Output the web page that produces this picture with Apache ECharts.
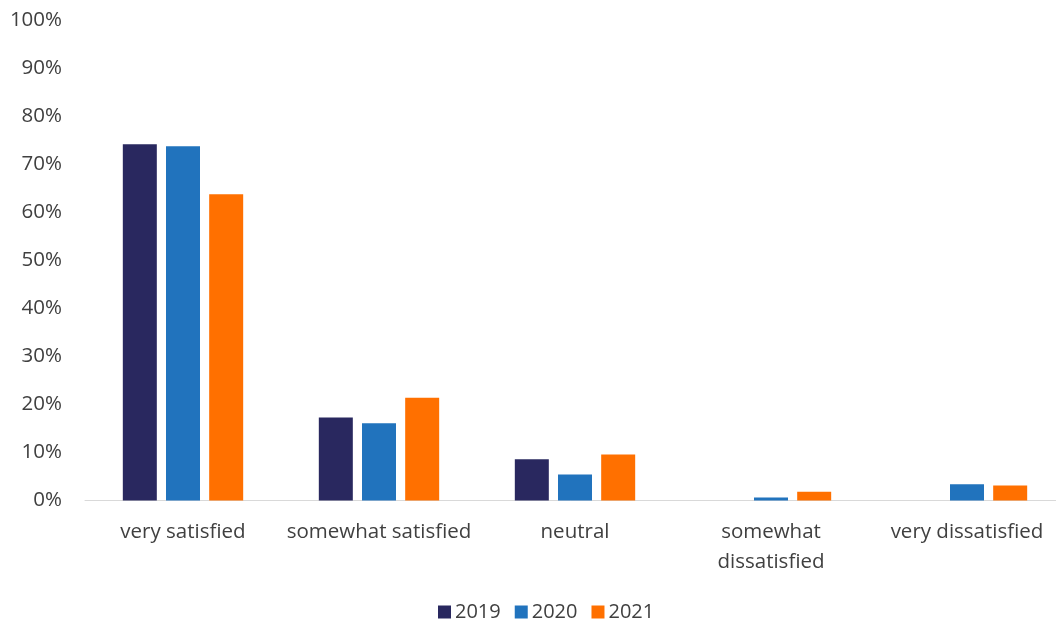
<!DOCTYPE html>
<html>
<head>
<meta charset="utf-8">
<title>Satisfaction by year</title>
<script src="https://cdn.jsdelivr.net/npm/echarts@6/dist/echarts.min.js"></script>
<style>
  html, body { margin: 0; padding: 0; background: #ffffff; }
  #chart { width: 1056px; height: 628px; }
</style>
</head>
<body>
<div id="chart"></div>
<script>
// Survey answer categories (x axis)
const categories = ['very satisfied', 'somewhat satisfied', 'neutral', 'somewhat\ndissatisfied', 'very dissatisfied'];

// Share of respondents per answer, in percent
const years = ['2019', '2020', '2021'];
const values2019 = [74.2, 17.3, 8.6, 0, 0];
const values2020 = [73.8, 16.1, 5.4, 0.6, 3.4];
const values2021 = [63.8, 21.4, 9.6, 1.8, 3.1];

const colors = ['#29285f', '#2173bd', '#ff7000'];
const seriesValues = [values2019, values2020, values2021];

const font = '"Open Sans", Lato, sans-serif';

const chart = echarts.init(document.getElementById('chart'), null, { renderer: 'canvas' });

chart.setOption({
  animation: false,
  color: colors,
  textStyle: { fontFamily: font },
  grid: { left: 85, top: 20.5, width: 980, height: 480, containLabel: false, outerBoundsMode: 'none' },
  legend: {
    data: years,
    bottom: 1,
    left: 433,
    itemWidth: 13,
    itemHeight: 13,
    itemGap: 14,
    icon: 'rect',
    textStyle: { fontSize: 20, color: '#404040', fontFamily: font, padding: [0, 0, 0, -1] }
  },
  xAxis: {
    type: 'category',
    data: categories,
    axisLine: { lineStyle: { color: '#d9d9d9', width: 1 } },
    axisTick: { show: false },
    axisLabel: {
      fontSize: 20.5,
      color: '#404040',
      fontFamily: font,
      margin: 17,
      lineHeight: 30,
      interval: 0,
      hideOverlap: false
    }
  },
  yAxis: {
    type: 'value',
    min: 0,
    max: 100,
    interval: 10,
    axisLine: { show: false },
    axisTick: { show: false },
    splitLine: { show: false },
    axisLabel: {
      fontSize: 20.5,
      color: '#404040',
      fontFamily: font,
      margin: 23,
      formatter: v => v + '%'
    }
  },
  series: years.map((y, i) => ({
    name: y,
    type: 'bar',
    data: seriesValues[i],
    barWidth: 34,
    barGap: '27%'
  }))
});
</script>
</body>
</html>
